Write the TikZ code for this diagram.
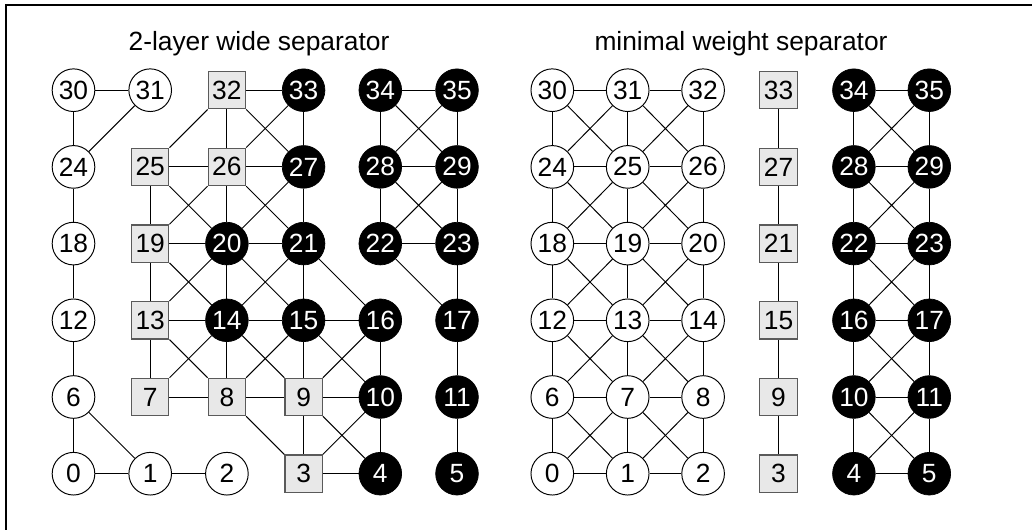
\documentclass[tikz,border=0pt]{standalone}
\usepackage{fontspec}
\setmainfont{Liberation Sans}
\definecolor{sepgray}{RGB}{232,232,232}
\definecolor{sepline}{RGB}{90,90,90}
\usepackage{tikz}
\usetikzlibrary{positioning}

\begin{document}
\begin{tikzpicture}[
  wnode/.style={draw=black, fill=white, circle, line width=0.55pt,
    minimum size=0.853cm, inner sep=0pt, font=\fontsize{15}{18}\selectfont},
  bnode/.style={draw=black, fill=black, circle, text=white,
    minimum size=0.853cm, inner sep=0pt, font=\fontsize{15}{18}\selectfont},
  snode/.style={draw=sepline, fill=sepgray, rectangle, line width=0.7pt,
    minimum size=0.747cm, inner sep=0pt, font=\fontsize{15}{18}\selectfont},
  edge/.style={draw=black, line width=0.55pt},
  title/.style={font=\fontsize{15}{18}\selectfont}]

\useasboundingbox (0,0) rectangle (20.64,10.58);
\draw[line width=1.1pt] (0.12,10.48) rectangle (21.5,-1);

\node[title] (ltitle) at (5.18,9.71) {2-layer wide separator};
\node[title] (rtitle) at (14.82,9.71) {minimal weight separator};

% left grid: node n sits in column mod(n,6), row floor(n/6)
\foreach \n in {0,1,2,6,12,18,24,30,31}
  \node[wnode] (L\n) at ({1.47+1.534*mod(\n,6)},{1.106+1.534*floor(\n/6)}) {\n};
\foreach \n in {3,7,8,9,13,19,25,26,32}
  \node[snode] (L\n) at ({1.47+1.534*mod(\n,6)},{1.106+1.534*floor(\n/6)}) {\n};
\foreach \n in {4,5,10,11,14,15,16,17,20,21,22,23,27,28,29,33,34,35}
  \node[bnode] (L\n) at ({1.47+1.534*mod(\n,6)},{1.106+1.534*floor(\n/6)}) {\n};

\foreach \a/\b in {30/31,32/33,34/35,25/26,26/27,28/29,19/20,20/21,22/23,
    13/14,14/15,15/16,7/8,8/9,9/10,0/1,1/2,3/4,
    30/24,24/18,18/12,12/6,6/0,32/26,26/20,20/14,14/8,33/27,27/21,21/15,
    15/9,9/3,25/19,19/13,13/7,16/10,10/4,34/28,28/22,35/29,29/23,23/17,
    17/11,11/5,
    31/24,32/25,32/27,33/26,34/29,35/28,25/20,26/19,26/21,27/20,28/23,
    29/22,19/14,20/13,20/15,21/14,21/16,22/17,13/8,14/7,14/9,15/8,15/10,
    16/9,6/1,8/3,9/4,10/3}
  \draw[edge] (L\a) -- (L\b);

% right grid
\foreach \n in {0,1,2,6,7,8,12,13,14,18,19,20,24,25,26,30,31,32}
  \node[wnode] (R\n) at ({11.046+1.508*mod(\n,6)},{1.106+1.534*floor(\n/6)}) {\n};
\foreach \n in {3,9,15,21,27,33}
  \node[snode] (R\n) at ({11.046+1.508*mod(\n,6)},{1.106+1.534*floor(\n/6)}) {\n};
\foreach \n in {4,5,10,11,16,17,22,23,28,29,34,35}
  \node[bnode] (R\n) at ({11.046+1.508*mod(\n,6)},{1.106+1.534*floor(\n/6)}) {\n};

\foreach \a [evaluate=\a as \b using int(\a+1)] in
    {0,1,4,6,7,10,12,13,16,18,19,22,24,25,28,30,31,34}
  \draw[edge] (R\a) -- (R\b);
\foreach \a [evaluate=\a as \b using int(\a+6)] in {0,...,29}
  \draw[edge] (R\a) -- (R\b);
\foreach \a [evaluate=\a as \b using int(\a+7),
             evaluate=\a as \c using int(\a+1),
             evaluate=\a as \d using int(\a+6)] in
    {0,1,4,6,7,10,12,13,16,18,19,22,24,25,28}
  \draw[edge] (R\a) -- (R\b) (R\c) -- (R\d);

\end{tikzpicture}
\end{document}
